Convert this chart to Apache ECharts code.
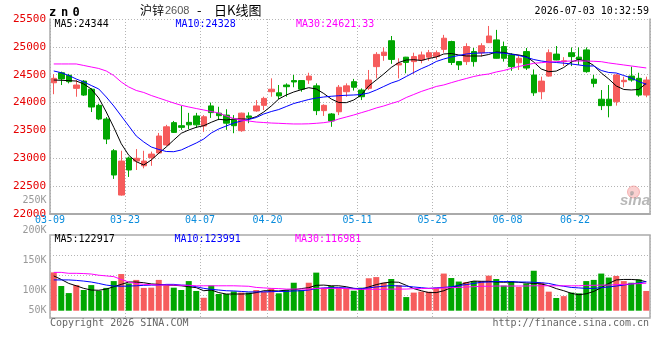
<!DOCTYPE html>
<html><head><meta charset="utf-8">
<script src="https://cdn.jsdelivr.net/npm/echarts@6/dist/echarts.min.js"></script>
<style>html,body{margin:0;padding:0;background:#fff}#c{width:660px;height:360px}</style>
</head><body><div id="c"></div>
<script>
const dates = ['03-09','03-10','03-11','03-12','03-13','03-16','03-17','03-18','03-19','03-20',
'03-23','03-24','03-25','03-26','03-27','03-30','03-31','04-01','04-02','04-03',
'04-07','04-08','04-09','04-10','04-13','04-14','04-15','04-16','04-17','04-20',
'04-21','04-22','04-23','04-24','04-27','04-28','04-29','04-30','05-06','05-07',
'05-08','05-11','05-12','05-13','05-14','05-15','05-18','05-19','05-20','05-21',
'05-22','05-25','05-26','05-27','05-28','05-29','06-01','06-02','06-03','06-04',
'06-05','06-08','06-09','06-10','06-11','06-12','06-15','06-16','06-17','06-18',
'06-22','06-23','06-24','06-25','06-26','06-29','06-30','07-01','07-02','07-03'];
const labelDates = ['03-09','03-23','04-07','04-20','05-11','05-25','06-08','06-22'];

const opens = [24355,24535,24490,24255,24385,24240,23950,23705,23135,22340,
23005,22950,22865,23010,23095,23240,23640,23585,23645,23760,
23580,23940,23810,23775,23700,23495,23760,23850,23950,24195,
24175,24315,24395,24395,24405,24300,23855,23795,23835,24195,
24375,24225,24255,24645,24845,25110,24675,24815,24735,24765,
24815,24825,24955,25095,24735,24735,24915,24895,25075,25125,
25005,24855,24715,24915,24495,24195,24475,24870,24735,24895,
24815,24945,24420,24060,24060,24015,24375,24475,24435,24135];
const closes = [24435,24425,24375,24315,24135,23920,23705,23345,22700,22950,
22790,23000,22950,23075,23400,23565,23465,23555,23600,23600,
23745,23820,23765,23630,23585,23810,23735,23940,24075,24240,
24120,24285,24370,24240,24475,23855,23950,23670,24275,24300,
24275,24105,24405,24865,24905,24775,24705,24720,24825,24855,
24895,24895,25155,24720,24675,25005,24735,25020,25195,24795,
24795,24645,24795,24620,24175,24385,24895,24765,24750,24825,
24775,24555,24345,23945,23945,24495,24400,24405,24135,24405];
const lows = [24150,24315,24345,24105,24120,23830,23685,23255,22630,22330,
22665,22790,22820,22865,23075,23220,23455,23510,23525,23545,
23475,23725,23685,23510,23450,23475,23630,23835,23865,24105,
24060,24105,24275,24195,24335,23775,23760,23565,23775,24105,
24215,24045,24225,24435,24750,24695,24435,24525,24515,24705,
24750,24775,24895,24675,24585,24675,24645,24825,25070,24790,
24735,24570,24585,24585,24120,24060,24465,24760,24655,24655,
24675,24535,24275,23865,23735,23945,24275,24375,24105,24095];
const highs = [24510,24555,24515,24405,24405,24260,23980,23740,23165,23135,
23030,23165,23135,23120,23455,23600,23670,23940,23815,23815,
23775,24000,23925,23880,23775,23820,23825,24045,24105,24435,
24315,24345,24495,24405,24535,24345,23970,23810,24315,24345,
24425,24255,24585,24905,24990,25195,24795,24820,24895,24915,
24945,24935,25215,25110,24740,25065,24980,25065,25375,25305,
25095,24885,24855,24980,24595,24465,24955,25015,24815,24990,
24990,24990,24495,24225,24315,24515,24465,24645,24535,24465];

const ma5 = [24405,24400,24393,24387,24334,24244,24082,23831,23556,23262,
23054,22939,22880,22969,23090,23203,23328,23449,23508,23556,
23585,23646,23700,23687,23705,23705,23705,23747,23831,23939,
24064,24136,24190,24231,24267,24244,24163,24064,24001,23998,
24046,24136,24298,24405,24513,24630,24719,24764,24770,24755,
24791,24818,24872,24881,24854,24836,24836,24836,24863,24908,
24899,24872,24854,24827,24728,24603,24554,24565,24630,24728,
24773,24746,24666,24531,24423,24298,24235,24226,24235,24344];
const ma10 = [24567,24536,24486,24423,24369,24307,24244,24100,23939,23759,
23580,23400,23293,23203,23158,23122,23118,23149,23212,23274,
23346,23454,23526,23580,23633,23669,23696,23732,23795,23839,
23875,23929,23983,24019,24055,24082,24100,24113,24123,24131,
24136,24145,24172,24226,24289,24351,24396,24468,24540,24608,
24666,24737,24782,24818,24845,24872,24885,24890,24895,24895,
24886,24868,24845,24814,24773,24746,24728,24719,24707,24693,
24675,24657,24657,24576,24540,24531,24486,24441,24378,24328];
const ma30 = [24693,24693,24693,24693,24666,24639,24612,24567,24486,24369,
24280,24217,24181,24127,24082,24037,23992,23951,23921,23893,
23867,23839,23813,23759,23714,23687,23669,23651,23642,23633,
23628,23621,23616,23616,23619,23628,23639,23660,23705,23741,
23777,23818,23858,23903,23939,23983,24023,24091,24145,24199,
24244,24289,24316,24357,24396,24432,24468,24495,24513,24549,
24576,24612,24648,24675,24705,24716,24728,24734,24741,24746,
24746,24746,24741,24734,24711,24693,24675,24657,24639,24621.33];

const volumes = [163000,105000,75000,109000,88000,109000,85000,97000,126000,156000,
116000,131000,97000,98000,131000,107000,98000,88000,126000,84000,
55000,107000,71000,71000,82000,77000,77000,88000,81000,95000,
74000,88000,119000,88000,119000,162000,97000,105000,98000,95000,
85000,98000,138000,143000,119000,135000,109000,58000,77000,81000,
81000,98000,158000,139000,124000,122000,126000,126000,149000,135000,
107000,126000,101000,116000,170000,119000,81000,54000,62000,77000,
74000,126000,131000,158000,141000,148000,126000,119000,133000,84000];
const volMa5 = [148000,133000,116000,106000,95000,88000,87000,92000,102000,112000,
122000,122000,119000,114000,112000,109000,108000,106000,102000,98000,
85000,88000,77000,71000,71000,71000,72000,77000,85000,85000,
84000,88000,89000,94000,98000,108000,109000,106000,106000,102000,
95000,92000,101000,111000,118000,122000,121000,108000,94000,85000,
77000,77000,85000,98000,108000,119000,126000,125000,125000,122000,
121000,122000,121000,118000,116000,114000,106000,94000,85000,74000,
68000,72000,82000,98000,116000,131000,133000,133000,131000,122917];
const volMa10 = [131000,131000,131000,129000,126000,122000,116000,109000,105000,104000,
105000,106000,108000,109000,109000,112000,112000,109000,108000,102000,
95000,91000,88000,85000,84000,82000,80000,80000,80000,81000,
82000,82000,84000,85000,88000,94000,97000,98000,98000,97000,
95000,94000,97000,101000,104000,107000,105000,104000,101000,98000,
95000,97000,99000,102000,107000,111000,116000,121000,122000,124000,
124000,124000,122000,122000,121000,119000,116000,109000,104000,99000,
97000,95000,95000,98000,101000,105000,109000,114000,118000,123991];
const volMa30 = [163000,163000,159000,159000,158000,156000,151000,148000,145000,133000,
122000,115000,112000,111000,109000,109000,109000,108000,108000,106000,
106000,106000,106000,106000,106000,105000,104000,99000,97000,95000,
94000,92000,92000,92000,92000,95000,95000,95000,95000,94000,
92000,91000,91000,91000,91000,92000,92000,92000,94000,94000,
95000,95000,97000,98000,99000,101000,102000,104000,104000,105000,
105000,105000,105000,105000,106000,106000,106000,106000,106000,106000,
106000,108000,108000,109000,109000,111000,112000,114000,115000,116981];

const priceTicks = [22000,22500,23000,23500,24000,24500,25000,25500];
const volTicks = [50000,100000,150000,200000,250000];

const RED = '#f65c5c', GREEN = '#00a600';
const MONO = '"DejaVu Sans Mono", monospace';
const GRIDC = '#b4b4b4';
const labelIdx = labelDates.map(d => dates.indexOf(d));
const isLabel = (i) => labelIdx.indexOf(i) >= 0;

const last = a => a[a.length - 1];
const candleData = opens.map((o, i) => [o, closes[i], lows[i], highs[i]]);
const volData = volumes.map((v, i) => ({value: v, itemStyle: {color: closes[i] >= opens[i] ? RED : GREEN}}));

const chart = echarts.init(document.getElementById('c'), null, {renderer: 'canvas'});
const lineS = (name, data, color, xi, yi) => ({
  name, type: 'line', data, xAxisIndex: xi, yAxisIndex: yi, symbol: 'none', silent: true,
  lineStyle: {width: 1, color}, itemStyle: {color}, z: 5
});
const txt = (text, x, y, font, fill, align) => ({
  type: 'text', x, y, silent: true, z: 100,
  style: {text, font, fill, textAlign: align || 'left', textVerticalAlign: 'middle'}
});

chart.setOption({
  animation: false,
  backgroundColor: '#fff',
  grid: [
    {left: 50, right: 10, top: 19, height: 195},
    {left: 50, right: 10, top: 235, height: 83, show: true, borderColor: '#aaa', borderWidth: 1.5},
    {left: 50, right: 10, top: 200, height: 120}
  ],
  xAxis: [
    {type: 'category', gridIndex: 0, data: dates, boundaryGap: true,
     axisLine: {show: true, onZero: false, lineStyle: {color: '#aaa', width: 2}},
     axisTick: {show: false},
     axisLabel: {interval: (i) => isLabel(i), margin: 1,
       formatter: v => '{d|' + v + '}',
       rich: {d: {color: '#0a8cdc', fontSize: 10, fontFamily: MONO, padding: [0, 7.5, 0, 0]}}},
     splitLine: {show: true, interval: (i) => isLabel(i), lineStyle: {color: GRIDC, type: [1, 2]}}},
    {type: 'category', gridIndex: 1, data: dates, boundaryGap: true,
     axisLine: {show: false}, axisTick: {show: false}, axisLabel: {show: false},
     splitLine: {show: true, interval: (i) => isLabel(i), lineStyle: {color: GRIDC, type: [1, 2]}}},
    {type: 'value', gridIndex: 2, show: false}
  ],
  yAxis: [
    {type: 'value', gridIndex: 0, min: priceTicks[0], max: last(priceTicks), interval: priceTicks[1] - priceTicks[0],
     position: 'left',
     axisLine: {show: true, lineStyle: {color: '#aaa', width: 1.5}},
     axisTick: {show: false},
     axisLabel: {color: '#e60000', fontSize: 11, fontFamily: MONO, margin: 4, padding: [0, 0, 3, 0],
       formatter: v => String(v)},
     splitLine: {show: true, lineStyle: {color: GRIDC, type: [1, 2]}}},
    {type: 'value', gridIndex: 0, min: priceTicks[0], max: last(priceTicks), position: 'right',
     axisLine: {show: true, lineStyle: {color: '#aaa', width: 1.5}},
     axisTick: {show: false}, axisLabel: {show: false}, splitLine: {show: false}},
    {type: 'value', gridIndex: 1, min: -31000, max: 322000, show: false, splitLine: {show: false}},
    {type: 'value', gridIndex: 1, min: 0, max: 83, interval: 20, inverse: true,
     axisLine: {show: false}, axisTick: {show: false}, axisLabel: {show: false},
     splitLine: {show: true, showMaxLine: false,
       lineStyle: {color: ['rgba(0,0,0,0)', GRIDC, GRIDC, GRIDC, 'rgba(0,0,0,0)'], type: [1, 2]}}},
    {type: 'value', gridIndex: 2, min: volTicks[0], max: last(volTicks), interval: volTicks[1] - volTicks[0],
     axisLine: {show: false}, axisTick: {show: false}, splitLine: {show: false},
     axisLabel: {margin: 3.5,
       formatter: v => (v === volTicks[0] ? '{s|' : '{n|') + String(v / 1000) + 'K}',
       rich: {
         n: {color: '#999', fontSize: 10, fontFamily: MONO},
         s: {color: '#999', fontSize: 10, fontFamily: MONO, padding: [0, 0, 19, 0]}
       }}}
  ],
  series: [
    {type: 'candlestick', xAxisIndex: 0, yAxisIndex: 0, data: candleData, barWidth: 6, silent: true,
     itemStyle: {color: RED, color0: GREEN, borderColor: RED, borderColor0: GREEN, borderWidth: 1}, z: 3},
    lineS('MA5', ma5, '#000000', 0, 0),
    lineS('MA10', ma10, '#0000ff', 0, 0),
    lineS('MA30', ma30, '#ff00ff', 0, 0),
    {type: 'bar', xAxisIndex: 1, yAxisIndex: 2, data: volData, barWidth: 6, silent: true, z: 3},
    lineS('VMA5', volMa5, '#000000', 1, 2),
    lineS('VMA10', volMa10, '#0000ff', 1, 2),
    lineS('VMA30', volMa30, '#ff00ff', 1, 2)
  ],
  graphic: [
    txt('z', 49, 12.5, 'bold 12px ' + MONO, '#000'),
    txt('n', 61, 12.5, 'bold 12px ' + MONO, '#000'),
    txt('0', 72.5, 12.5, 'bold 12px ' + MONO, '#000'),
    txt('沪锌', 140, 10, '12px "Noto Sans CJK SC"', '#000'),
    txt('2608', 165, 10.5, '11px "Liberation Sans"', '#555'),
    txt('-', 197, 10, '13px "Noto Sans CJK SC"', '#000'),
    txt('日K线图', 214, 10, '13px "Noto Sans CJK SC"', '#000'),
    txt('2026-07-03 10:32:59', 649, 11, '10px ' + MONO, '#000', 'right'),
    txt('MA5:' + last(ma5), 54.5, 24, '10px ' + MONO, '#000'),
    txt('MA10:' + last(ma10), 175.5, 24, '10px ' + MONO, '#0000ff'),
    txt('MA30:' + last(ma30), 296, 24, '10px ' + MONO, '#ff00ff'),
    txt('MA5:' + last(volMa5), 54.5, 239.5, '10px ' + MONO, '#000'),
    txt('MA10:' + last(volMa10), 174.5, 239.5, '10px ' + MONO, '#0000ff'),
    txt('MA30:' + last(volMa30), 295, 239.5, '10px ' + MONO, '#ff00ff'),
    txt('Copyright 2026 SINA.COM', 50, 323.5, '10px ' + MONO, '#666'),
    txt('http://finance.sina.com.cn', 649, 323.5, '10px ' + MONO, '#666', 'right'),
    {type: 'circle', shape: {cx: 633.5, cy: 192, r: 6}, silent: true, z: 1,
     style: {fill: 'rgba(246,170,170,0.55)', stroke: 'rgba(240,140,140,0.6)', lineWidth: 1}},
    {type: 'circle', shape: {cx: 632, cy: 193, r: 2}, silent: true, z: 1,
     style: {fill: 'rgba(150,150,150,0.6)'}},
    txt('sina', 635, 201, 'italic bold 15px "Liberation Sans"', 'rgba(160,160,160,0.75)', 'center')
  ]
});
</script></body></html>
